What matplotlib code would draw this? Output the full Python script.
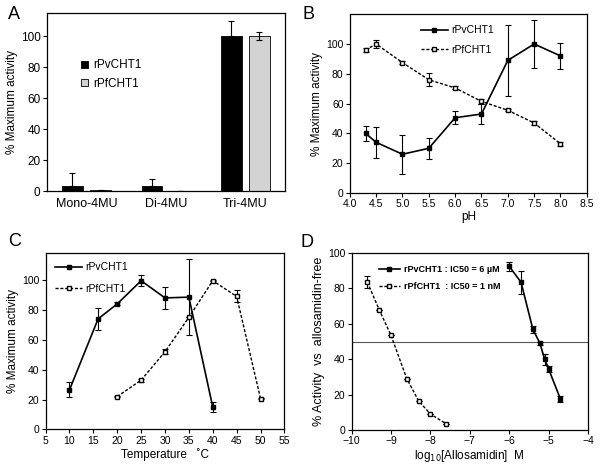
import matplotlib
matplotlib.use("Agg")
import matplotlib.pyplot as plt
from matplotlib.lines import Line2D
import numpy as np

plt.rcParams['font.family'] = ['Liberation Sans', 'DejaVu Sans']

# Panel A: substrate specificity
substrates = ['Mono-4MU', 'Di-4MU', 'Tri-4MU']
pv_sub = [3, 3, 100]
pv_sub_err = [9, 5, 10]
pf_sub = [0.5, 0, 100]
pf_sub_err = [0, 0, 2.5]

# Panel B: pH profile
ph = [4.3, 4.5, 5.0, 5.5, 6.0, 6.5, 7.0, 7.5, 8.0]
pv_ph = [40, 34, 26, 30, 50.5, 53, 89, 100, 92]
pv_ph_err = [5, 10.5, 13, 7, 4.5, 7, 24, 16, 8.5]
pf_ph = [96, 100, 87.5, 76, 70.5, 61.5, 55.5, 47, 33]
pf_ph_err = [1.5, 3, 1, 4.5, 1, 1.5, 0.8, 1.2, 1.5]

# Panel C: temperature profile
temp_pv = [10, 16, 20, 25, 30, 35, 40]
pv_temp = [26.5, 74, 84, 99.5, 88, 88.5, 15]
pv_temp_err = [5, 7.5, 1, 3.5, 7.5, 25.5, 3.3]
temp_pf = [20, 25, 30, 35, 40, 45, 50]
pf_temp = [22, 33, 52, 75, 99.5, 89, 20.7]
pf_temp_err = [0.5, 1, 1.5, 0, 0.5, 4, 0.5]

# Panel D: allosamidin inhibition
conc_pv = [-6.0, -5.7, -5.4, -5.22, -5.1, -5.0, -4.7]
pv_inh = [92.5, 83.5, 57, 49, 40, 34.5, 17.5]
pv_inh_err = [2.5, 6.5, 2, 1, 3, 1.5, 1.5]
conc_pf = [-9.6, -9.3, -9.0, -8.6, -8.3, -8.0, -7.6]
pf_inh = [83.5, 68, 53.5, 29, 16.5, 9, 3.5]
pf_inh_err = [3.5, 0, 0, 0, 0, 0, 0]

fig = plt.figure(figsize=(6, 4.73), dpi=100)
axA = fig.add_axes([0.078, 0.596, 0.397, 0.3765])
axB = fig.add_axes([0.583, 0.592, 0.395, 0.378])
axC = fig.add_axes([0.076, 0.092, 0.398, 0.373])
axD = fig.add_axes([0.586, 0.091, 0.394, 0.374])

dash = (0, (2.2, 1.3))
ekw = dict(elinewidth=0.8, capsize=2, capthick=0.8)


def handles(lab1, lab2):
    h1 = Line2D([], [], color='black', lw=1.2, marker='s', ms=3, mfc='black', label=lab1)
    h2 = Line2D([], [], color='black', lw=1.0, ls=dash, marker='s', ms=3, mfc='white', label=lab2)
    return [h1, h2]


for ax in (axA, axB, axC, axD):
    for s in ax.spines.values():
        s.set_linewidth(0.9)
    ax.tick_params(direction='out', length=3, width=0.8, labelsize=7.5, pad=1.5)

# A
x = np.arange(len(substrates))
w = 0.26
off = 0.177
axA.bar(x - off, pv_sub, w, color='black', edgecolor='black', linewidth=0.6,
        yerr=[np.zeros(3), pv_sub_err], error_kw=ekw, label='rPvCHT1')
axA.bar(x + off, pf_sub, w, color='#d3d3d3', edgecolor='black', linewidth=0.6,
        yerr=pf_sub_err, error_kw=ekw, label='rPfCHT1')
axA.set_xlim(-0.5, 2.5)
axA.set_ylim(0, 115)
axA.set_yticks(range(0, 101, 20))
axA.set_xticks(x)
axA.set_xticklabels(substrates, fontsize=9)
axA.tick_params(axis='x', length=0, pad=5)
axA.tick_params(axis='y', labelsize=8.5)
axA.set_ylabel('% Maximum activity', fontsize=8.5, labelpad=2)
axA.legend(loc='upper left', bbox_to_anchor=(0.1, 0.8), frameon=False, fontsize=8.5,
           handlelength=0.55, handleheight=0.55, handletextpad=0.5, labelspacing=0.55)

# B
axB.errorbar(ph, pv_ph, yerr=pv_ph_err, color='black', lw=1.2, marker='s', ms=3,
             mfc='black', **ekw)
axB.errorbar(ph, pf_ph, yerr=pf_ph_err, color='black', lw=1.0, ls=dash, marker='s', ms=3,
             mfc='white', **ekw)
axB.set_xlim(4.0, 8.5)
axB.set_ylim(0, 120)
axB.set_xticks(np.arange(4.0, 8.51, 0.5))
axB.set_xticklabels(['%.1f' % v for v in np.arange(4.0, 8.51, 0.5)])
axB.set_yticks(range(0, 101, 20))
axB.set_xlabel('pH', fontsize=8.5, labelpad=1)
axB.set_ylabel('% Maximum activity', fontsize=8.5, labelpad=2)
axB.legend(handles=handles('rPvCHT1', 'rPfCHT1'), loc='upper left',
           bbox_to_anchor=(0.26, 0.99), frameon=False, fontsize=7.5,
           handlelength=2.6, handletextpad=0.3, labelspacing=0.9)

# C
axC.errorbar(temp_pv, pv_temp, yerr=pv_temp_err, color='black', lw=1.2, marker='s', ms=3,
             mfc='black', **ekw)
axC.errorbar(temp_pf, pf_temp, yerr=pf_temp_err, color='black', lw=1.0, ls=dash, marker='s', ms=3,
             mfc='white', **ekw)
axC.set_xlim(5, 55)
axC.set_ylim(0, 118)
axC.set_xticks(range(5, 56, 5))
axC.set_yticks(range(0, 101, 20))
axC.set_xlabel('Temperature   \u02daC', fontsize=8.5, labelpad=2)
axC.set_ylabel('% Maximum activity', fontsize=8.5, labelpad=2)
axC.legend(handles=handles('rPvCHT1', 'rPfCHT1'), loc='upper left',
           bbox_to_anchor=(0.0, 1.0), frameon=False, fontsize=7.5,
           handlelength=2.6, handletextpad=0.3, labelspacing=1.1)

# D
axD.axhline(50, color='#555555', lw=0.8)
axD.errorbar(conc_pv, pv_inh, yerr=pv_inh_err, color='black', lw=1.2, marker='s', ms=3,
             mfc='black', **ekw)
axD.errorbar(conc_pf, pf_inh, yerr=pf_inh_err, color='black', lw=1.0, ls=dash, marker='s', ms=3,
             mfc='white', **ekw)
axD.set_xlim(-10, -4)
axD.set_ylim(0, 100)
axD.set_xticks(range(-10, -3))
axD.set_yticks(range(0, 101, 20))
axD.set_xlabel(r'log$_{10}$[Allosamidin]  M', fontsize=8.5, labelpad=1)
axD.set_ylabel('% Activity  vs  allosamidin-free', fontsize=9, labelpad=2)
axD.legend(handles=handles('rPvCHT1 : IC50 = 6 \u00b5M', 'rPfCHT1  : IC50 = 1 nM'),
           loc='upper left', bbox_to_anchor=(0.08, 0.98), frameon=False,
           prop=dict(size=6.5, weight='bold'),
           handlelength=2.4, handletextpad=0.4, labelspacing=0.9)

# panel letters
for lab, (px, py) in zip('ABCD', [(8, 19), (302, 19), (8, 246), (301, 247)]):
    fig.text(px / 600, 1 - py / 473, lab, fontsize=13, ha='left', va='baseline')

fig.savefig('out.png', dpi=100)
